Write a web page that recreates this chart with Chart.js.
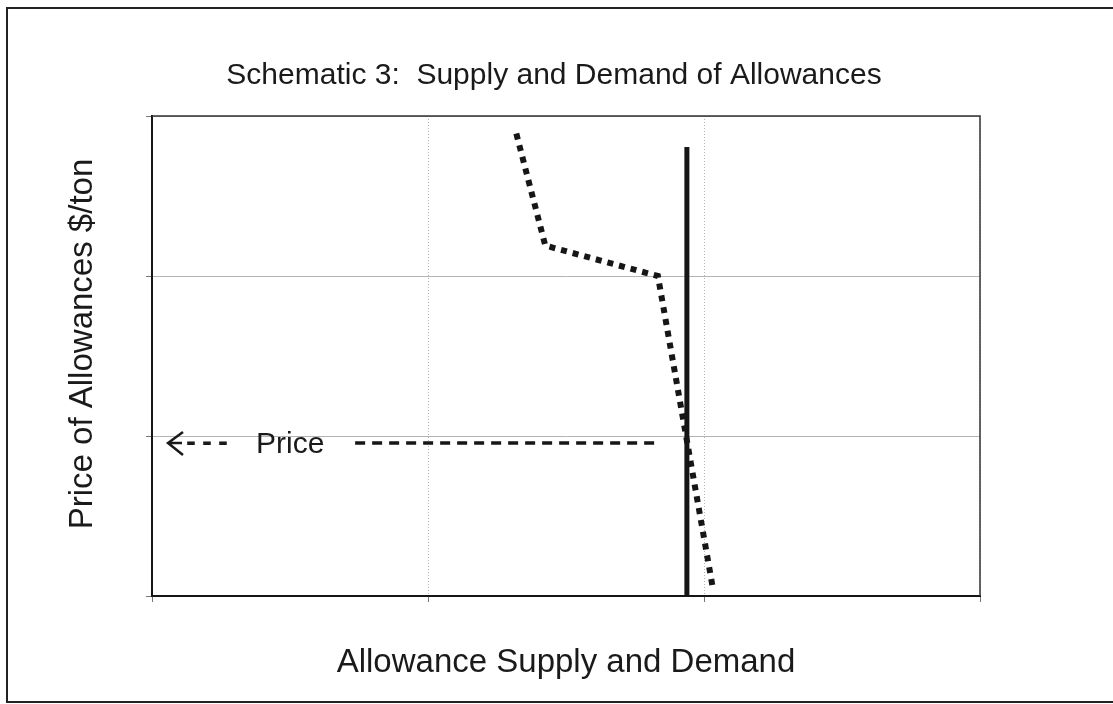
<!DOCTYPE html>
<html>
<head>
<meta charset="utf-8">
<script src="https://cdn.jsdelivr.net/npm/chart.js@4.4.0/dist/chart.umd.min.js"></script>
<style>
  html, body { margin: 0; padding: 0; background: #fff; }
  #wrap { width: 1113px; height: 704px; position: relative; }
</style>
</head>
<body>
<div id="wrap"><canvas id="chart" width="1113" height="704"></canvas></div>
<script>
// ── Data (axis units: 0..3 on both axes, no numeric tick labels) ─────────────

const xTicks = [0, 1, 2, 3];
const yTicks = [0, 1, 2, 3];

// demand curve (dotted)
const demandX = [1.32, 1.425, 1.833, 2.033];
const demandY = [2.89, 2.19, 2.0, 0.04];

// supply (solid vertical line)
const supplyX = [1.938, 1.938];
const supplyY = [0, 2.806];

// price marker (dashed horizontal)
const priceX = [0.736, 1.84];
const priceY = [0.956, 0.956];

const TITLE  = 'Schematic 3:  Supply and Demand of Allowances';
const XLABEL = 'Allowance Supply and Demand';
const YLABEL = 'Price of Allowances $/ton';
const PRICE_LABEL = 'Price';

const INK  = '#161616';
const GRID = '#b4b4b4';
const FONT = "'Liberation Sans', Arial, sans-serif";

const pts = (xs, ys) => xs.map((x, i) => ({ x, y: ys[i] }));

// ── Text + frame plugin ───────────────────────────────────────────────────────

const frameText = {
  id: 'frameText',
  afterDraw(chart) {
    const { ctx, chartArea } = chart;
    ctx.save();
    // outer frame
    ctx.strokeStyle = '#222';
    ctx.lineWidth = 2;
    ctx.strokeRect(7, 8, 1120, 694);

    // plot box top / right edge
    ctx.lineWidth = 1.5;
    ctx.strokeStyle = '#333';
    ctx.beginPath();
    ctx.moveTo(chartArea.left, chartArea.top);
    ctx.lineTo(chartArea.right, chartArea.top);
    ctx.lineTo(chartArea.right, chartArea.bottom);
    ctx.stroke();

    ctx.fillStyle = '#1a1a1a';
    ctx.textBaseline = 'alphabetic';

    // title
    ctx.font = `30px ${FONT}`;
    ctx.textAlign = 'center';
    ctx.fillText(TITLE, 554, 84);

    // x label
    ctx.font = `33px ${FONT}`;
    ctx.fillText(XLABEL, (chartArea.left + chartArea.right) / 2, 672);

    // y label
    ctx.save();
    ctx.translate(92, 344);
    ctx.rotate(-Math.PI / 2);
    ctx.fillText(YLABEL, 0, 0);
    ctx.restore();

    // price annotation: arrow head + shaft, dashes, label
    ctx.strokeStyle = '#1a1a1a';
    ctx.lineWidth = 2.5;
    ctx.beginPath();
    ctx.moveTo(183, 432);
    ctx.lineTo(168, 443);
    ctx.lineTo(183, 455);
    ctx.moveTo(169, 443);
    ctx.lineTo(182, 443);
    ctx.stroke();

    ctx.textAlign = 'left';
    ctx.font = `bold 30px ${FONT}`;
    ctx.letterSpacing = '6px';
    ctx.fillText('---', 186, 451);
    ctx.letterSpacing = '0px';
    ctx.font = `30px ${FONT}`;
    ctx.fillText(PRICE_LABEL, 256, 453);
    ctx.restore();
  }
};

// ── Chart ─────────────────────────────────────────────────────────────────────

new Chart(document.getElementById('chart'), {
  type: 'scatter',
  data: {
    datasets: [
      {
        label: 'Demand',
        data: pts(demandX, demandY),
        showLine: true,
        borderColor: INK,
        borderWidth: 6,
        borderDash: [6, 6],
        borderCapStyle: 'butt',
        pointRadius: 0,
      },
      {
        label: 'Supply',
        data: pts(supplyX, supplyY),
        showLine: true,
        borderColor: INK,
        borderWidth: 5,
        pointRadius: 0,
      },
      {
        label: 'Price',
        data: pts(priceX, priceY),
        showLine: true,
        borderColor: INK,
        borderWidth: 3.5,
        borderDash: [10, 7],
        pointRadius: 0,
      },
    ],
  },
  options: {
    responsive: false,
    animation: false,
    layout: { padding: { left: 142, top: 116, right: 133, bottom: 98 } },
    scales: {
      x: {
        type: 'linear',
        min: 0, max: 3,
        afterBuildTicks: s => { s.ticks = xTicks.map(v => ({ value: v })); },
        afterFit: s => { s.height = 10; },
        ticks: { display: false },
        grid: { color: GRID, lineWidth: 1, tickLength: 6, tickColor: '#777' },
        border: { color: INK, width: 2, dash: [1, 2] },
      },
      y: {
        type: 'linear',
        min: 0, max: 3,
        afterBuildTicks: s => { s.ticks = yTicks.map(v => ({ value: v })); },
        afterFit: s => { s.width = 10; },
        ticks: { display: false },
        grid: { color: GRID, lineWidth: 1, tickLength: 6, tickColor: '#777' },
        border: { color: INK, width: 2 },
      },
    },
    plugins: {
      legend: { display: false },
      tooltip: { enabled: false },
    },
  },
  plugins: [frameText],
});
</script>
</body>
</html>
